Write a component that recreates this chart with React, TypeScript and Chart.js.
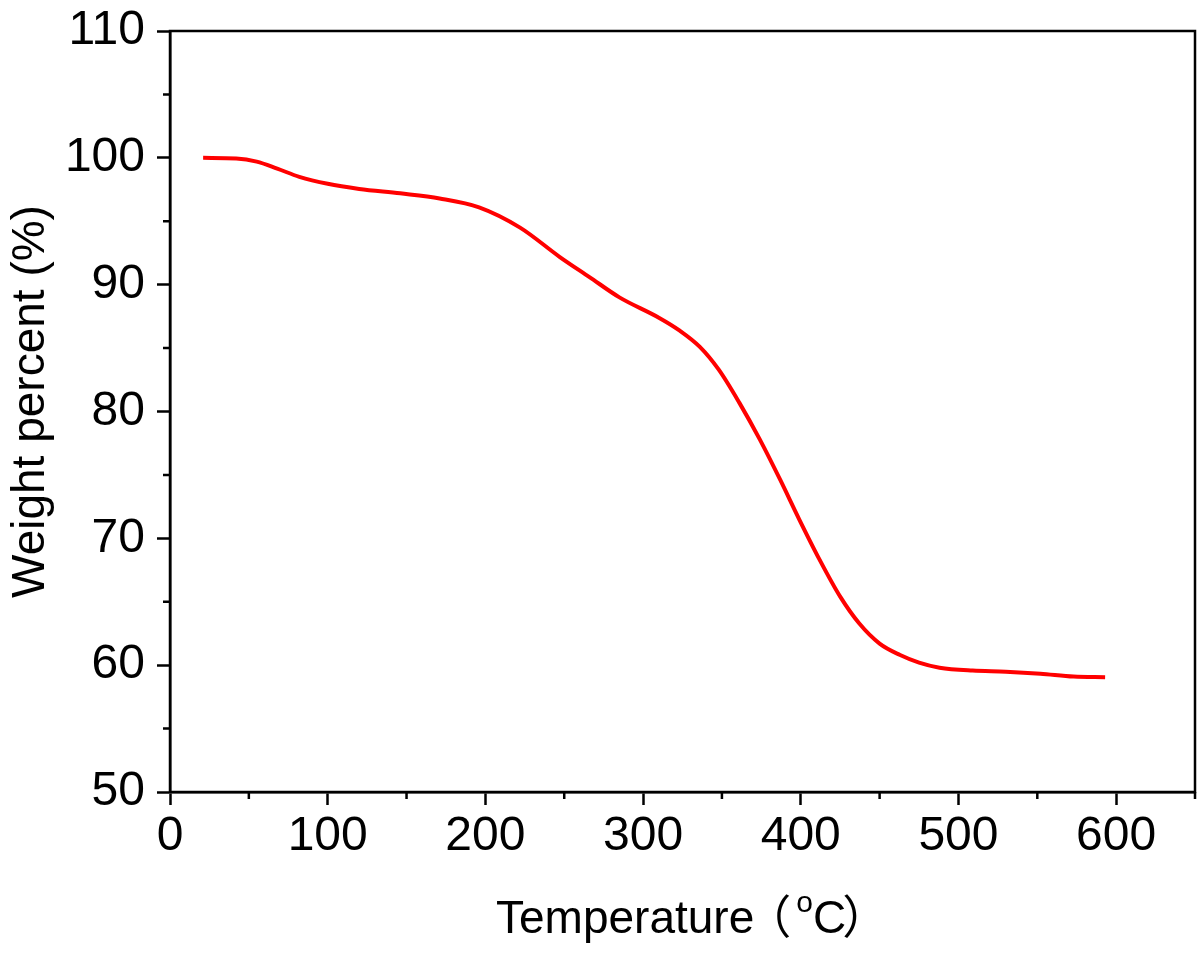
import React, { useEffect, useRef } from "react";
import { Chart, registerables } from "chart.js";

Chart.register(...registerables);

// Temperature (°C) and weight percent (%)
const temperatures = [21, 42, 55, 68, 82, 100, 120, 146, 171, 196, 222, 247, 266, 285, 310, 323, 336, 348, 361, 374, 387, 399, 412, 425, 437, 450, 463, 475, 488, 509, 530, 552, 573, 593];
const weights = [100.0, 99.95, 99.7, 99.15, 98.5, 97.95, 97.55, 97.2, 96.8, 96.1, 94.5, 92.2, 90.6, 89.0, 87.4, 86.4, 85.1, 83.3, 80.7, 77.8, 74.6, 71.5, 68.3, 65.4, 63.3, 61.7, 60.8, 60.2, 59.8, 59.57, 59.49, 59.33, 59.1, 59.05];

const xMajorTicks = [0, 100, 200, 300, 400, 500, 600];
const xMinorTicks = [50, 150, 250, 350, 450, 550, 650];
const yMajorTicks = [50, 60, 70, 80, 90, 100, 110];
const yMinorTicks = [55, 65, 75, 85, 95, 105];

// x title pieces: main text, open paren, superscript o, C, close paren
const X_TITLE_PARTS = ["Temperature", "（", "o", "C", "）"];
const Y_TITLE = "Weight percent (%)";

const FONT = '"Liberation Sans", Arial, "Noto Sans CJK SC", "DejaVu Sans", sans-serif';
const CJK_FONT = '"Noto Sans CJK SC", "Liberation Sans", sans-serif';
const AXIS_W = 2.5;
const TICK_SIZE = 48;
const TITLE_SIZE = 46;
const SUP_SIZE = 30;

const frameAndMinorTicks = {
  id: "frameAndMinorTicks",
  afterDraw(chart: any) {
    const { ctx, chartArea: a, scales } = chart;
    ctx.save();
    ctx.strokeStyle = "#000";
    ctx.lineWidth = AXIS_W;
    ctx.strokeRect(a.left, a.top, a.right - a.left, a.bottom - a.top);
    ctx.beginPath();
    for (const v of xMinorTicks) {
      const px = scales.x.getPixelForValue(v);
      ctx.moveTo(px, a.bottom);
      ctx.lineTo(px, a.bottom + 7);
    }
    for (const v of yMinorTicks) {
      const py = scales.y.getPixelForValue(v);
      ctx.moveTo(a.left - 7, py);
      ctx.lineTo(a.left, py);
    }
    ctx.stroke();

    // axis titles
    ctx.fillStyle = "#000";
    ctx.textAlign = "left";
    ctx.textBaseline = "alphabetic";
    const base = a.bottom + 141;
    let x = a.left + 326;
    const [main, open, sup, c, close] = X_TITLE_PARTS;
    ctx.font = `${TITLE_SIZE}px ${FONT}`;
    ctx.fillText(main, x, base);
    x += ctx.measureText(main).width;
    ctx.font = `${TITLE_SIZE}px ${CJK_FONT}`;
    ctx.fillText(open, x - 9, base);
    x += ctx.measureText(open).width;
    ctx.font = `${SUP_SIZE}px ${FONT}`;
    ctx.fillText(sup, x - 4, base - 21);
    x += ctx.measureText(sup).width - 4;
    ctx.font = `${TITLE_SIZE}px ${FONT}`;
    ctx.fillText(c, x, base);
    x += ctx.measureText(c).width;
    ctx.font = `${TITLE_SIZE}px ${CJK_FONT}`;
    ctx.fillText(close, x - 4, base);

    ctx.translate(44, (a.top + a.bottom) / 2 - 10);
    ctx.rotate(-Math.PI / 2);
    ctx.textAlign = "center";
    ctx.font = `${TITLE_SIZE}px ${FONT}`;
    ctx.fillText(Y_TITLE, 0, 0);
    ctx.restore();
  },
};

export default function App() {
  const canvasRef = useRef<HTMLCanvasElement | null>(null);

  useEffect(() => {
    const canvas = canvasRef.current;
    if (!canvas) return;
    const points = temperatures.map((t, i) => ({ x: t, y: weights[i] }));
    const chart = new Chart(canvas, {
      type: "line",
      data: {
        datasets: [
          {
            label: "Weight percent",
            data: points,
            borderColor: "#ff0000",
            backgroundColor: "#ff0000",
            borderWidth: 4,
            pointRadius: 0,
            cubicInterpolationMode: "monotone",
            fill: false,
          },
        ],
      },
      options: {
        animation: false,
        responsive: false,
        maintainAspectRatio: false,
        devicePixelRatio: 1,
        layout: { padding: { top: 31, right: 5, bottom: 0, left: 0 } },
        plugins: {
          legend: { display: false },
          tooltip: { enabled: false },
        },
        scales: {
          x: {
            type: "linear",
            min: 0,
            max: 650,
            afterBuildTicks: (scale: any) => {
              scale.ticks = xMajorTicks.map((v) => ({ value: v }));
            },
            afterFit: (scale: any) => {
              scale.height = 161;
              scale.paddingLeft = 0;
              scale.paddingRight = 0;
            },
            ticks: {
              color: "#000",
              font: { family: FONT, size: TICK_SIZE },
              padding: 3,
              maxRotation: 0,
              autoSkip: false,
            },
            grid: {
              display: true,
              drawOnChartArea: false,
              drawTicks: true,
              tickLength: 13,
              tickWidth: AXIS_W,
              tickColor: "#000",
            },
            border: { display: true, color: "#000", width: AXIS_W },
          },
          y: {
            type: "linear",
            min: 50,
            max: 110,
            afterBuildTicks: (scale: any) => {
              scale.ticks = yMajorTicks.map((v) => ({ value: v }));
            },
            afterFit: (scale: any) => {
              scale.width = 170;
              scale.paddingTop = 0;
              scale.paddingBottom = 0;
            },
            ticks: {
              color: "#000",
              font: { family: FONT, size: TICK_SIZE },
              padding: 12,
              autoSkip: false,
            },
            grid: {
              display: true,
              drawOnChartArea: false,
              drawTicks: true,
              tickLength: 13,
              tickWidth: AXIS_W,
              tickColor: "#000",
            },
            border: { display: true, color: "#000", width: AXIS_W },
          },
        },
      },
      plugins: [frameAndMinorTicks],
    } as any);
    return () => chart.destroy();
  }, []);

  return (
    <div style={{ position: "fixed", left: 0, top: 0, width: 1200, height: 953, background: "#fff" }}>
      <canvas ref={canvasRef} width={1200} height={953} style={{ width: 1200, height: 953, display: "block" }} />
    </div>
  );
}
